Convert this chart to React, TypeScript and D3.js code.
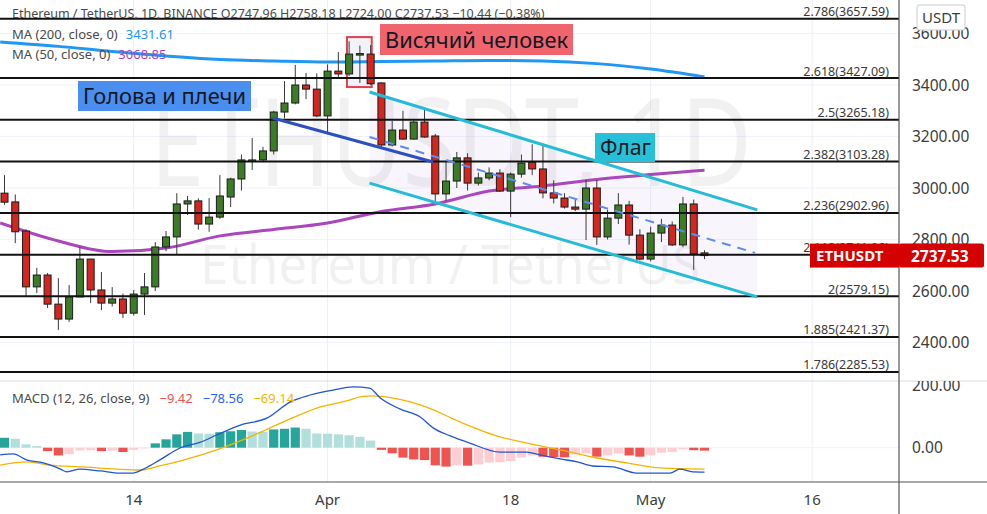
import React from 'react';
import * as d3 from 'd3';

// ---------- DATA ----------
const opens = [2980,2946,2833,2616,2662,2549,2491,2577,2724,2604,
 2553,2569,2514,2588,2616,2771,2810,2938,2950,2860,
 2887,2965,3035,3108,3109,3144,3295,3330,3400,3384,
 3280,3454,3443,3521,3520,3408,3167,3225,3190,3256,
 3202,2977,3027,3117,3019,3039,3058,2988,3054,3100,
 3074,2981,2961,2926,2918,3000,2810,2883,2934,2817,
 2724,2825,2856,2779,2938,2747.96];
const highs = [3050,2975,2840,2690,2670,2650,2623,2771,2724,2674,
 2615,2590,2604,2670,2790,2833,2980,2969,2960,2961,
 3050,3040,3130,3194,3160,3300,3415,3478,3447,3445,
 3480,3528,3570,3553,3555,3410,3260,3300,3262,3307,
 3210,3100,3140,3135,3060,3080,3073,3060,3130,3170,
 3170,3030,2980,2955,3031,3031,2915,2980,2950,2840,
 2850,2880,2870,2965,2955,2758.18];
const lows = [2935,2786,2577,2592,2534,2449,2480,2577,2553,2526,
 2540,2495,2505,2507,2600,2755,2740,2895,2838,2830,
 2880,2926,2990,3070,3100,3130,3270,3325,3345,3275,
 3210,3430,3435,3408,3400,3160,3162,3188,3188,3195,
 2950,2950,3000,2990,3010,3030,2985,2887,3040,3050,
 2960,2940,2920,2910,2798,2779,2800,2860,2780,2720,
 2715,2790,2775,2770,2682,2724];
const closes = [2945,2830,2616,2662,2549,2491,2577,2724,2604,2553,
 2569,2514,2588,2616,2771,2810,2938,2950,2860,2887,
 2969,3035,3109,3109,3144,3295,3330,3400,3384,3280,
 3454,3443,3520,3522,3405,3167,3225,3190,3256,3198,
 2977,3027,3117,3019,3039,3058,2988,3054,3097,3074,
 2981,2961,2926,2918,3000,2810,2883,2934,2817,2724,
 2825,2856,2779,2938,2744,2737.53];

const ma200Idx = [-0.4,5,10,15,20,25,30,35,40,45,50,55,60,65];
const ma200Val = [3567,3550,3530,3513,3499,3493,3489,3491,3493,3495,3493,3483,3462,3431.61];
const ma50Idx = [-0.4,5,10,15,20,25,30,35,40,45,50,55,60,65];
const ma50Val = [2864,2794,2753,2767,2814,2839,2864,2909,2938,2988,3008,3033,3052,3068.85];

const histVals = [32,29,11,5,-11,-25,-21,-9,-8,-11,
 -9,-14,-7,-2,14,27,43,51,46,45,
 50,53,57,52,51,59,61,65,61,46,
 45,43,40,35,23,-7,-18,-32,-38,-40,
 -57,-61,-57,-58,-54,-48,-47,-43,-32,-25,
 -29,-30,-31,-22,-18,-29,-25,-18,-25,-29,
 -25,-16,-14,-5,-8,-9.42];
const macdIdx = [-0.4,0.8,2.1,3.6,5.2,5.8,7.0,8.9,10.7,11.9,12.9,14.4,16.3,18.2,19.7,21.9,24.4,26.5,28.4,30.5,32.4,33.9,34.9,36.7,38.6,39.8,41.4,43.2,46.0,48.5,49.7,51.6,53.2,54.6,56.5,58.7,60.9,61.8,62.7,63.9,65];
const macdVal = [-23,-20,-40,-49,-69,-78,-69,-75,-82,-82,-69,-40,-1,18,41,73,96,147,170,186,196,192,160,125,99,64,38,15,-14,-14,-23,-36,-46,-59,-62,-82,-82,-82,-69,-78,-78.56];
const signalIdx = [-0.4,2.1,4.2,7.3,10.4,12.6,14.4,16.6,19.7,22.8,25.9,29.0,32.1,33.0,34.2,36.1,39.2,42.3,46.0,48.5,51.6,54.6,57.8,60.9,65];
const signalVal = [-56,-46,-56,-62,-69,-72,-59,-40,-7,35,83,128,154,164,167,160,131,83,35,15,-7,-30,-49,-65,-69.14];

const priceTicks = [3600,3400,3200,3000,2800,2600,2400];
const macdTicks = [200,0];
const fibRatios = ['2.786','2.618','2.5','2.382','2.236','2.118','2','1.885','1.786'];
const fibPrices = [3657.59,3427.09,3265.18,3103.28,2902.96,2741.06,2579.15,2421.37,2285.53];
const timeTickIdx = [12,30,47,60,75];
const timeTickLabels = ['14','Apr','18','May','16'];

// drawings in (candle index, price) space
const necklineIdx = [24.9, 39.8];
const necklinePrice = [3272, 3101];
const flagMidIdx = [33.9, 69.7];
const flagMidPrice = [3198, 2748];
const flagTopIdx = [33.9, 69.9];
const flagTopPrice = [3373, 2915];
const flagBotIdx = [33.9, 69.9];
const flagBotPrice = [3019, 2577];
const hangIdx = [31.8, 34.1];
const hangPrice = [3586, 3392];

const W = 987, H = 514;
const PR = 899;          // right edge of plot
const PANE_SPLIT = 381;  // price / macd
const MACD_BOTTOM = 482;
const FONT = "'Noto Sans', 'DejaVu Sans', sans-serif";

export default function App() {
  const x = d3.scaleLinear().domain([0, 65]).range([4.5, 704.5]);
  const yP = d3.scaleLinear().domain([2400, 3600]).range([342.5, 33.5]);
  const yM = d3.scaleLinear().domain([0, 200]).range([447.7, 385.7]);

  const lineFrom = (idx: number[], vals: number[], y: (v: number) => number) =>
    d3.line<number>().x((_, k) => x(idx[k])).y(v => y(v)).curve(d3.curveMonotoneX)(vals) || '';

  const seg = (idx: number[], pr: number[]) => ({ x1: x(idx[0]), y1: yP(pr[0]), x2: x(idx[1]), y2: yP(pr[1]) });
  const nk = seg(necklineIdx, necklinePrice);
  const fm = seg(flagMidIdx, flagMidPrice);
  const ft = seg(flagTopIdx, flagTopPrice);
  const fb = seg(flagBotIdx, flagBotPrice);

  const histColor = (v: number, i: number) => {
    const prev = i > 0 ? histVals[i - 1] : -Infinity;
    if (v >= 0) return v >= prev ? '#26a69a' : '#b2dfdb';
    return v < prev ? '#ef5350' : '#ffcdd2';
  };

  const lastClose = closes[closes.length - 1];

  return (
    <svg width={W} height={H} style={{ position: 'absolute', left: 0, top: 0, background: '#fff' }} fontFamily={FONT}>
      <defs>
        <clipPath id="pricePane"><rect x={0} y={0} width={PR} height={PANE_SPLIT} /></clipPath>
        <clipPath id="macdPane"><rect x={0} y={PANE_SPLIT} width={PR} height={MACD_BOTTOM - PANE_SPLIT} /></clipPath>
        <clipPath id="macdAxis"><rect x={PR} y={PANE_SPLIT} width={W - PR} height={MACD_BOTTOM - PANE_SPLIT} /></clipPath>
      </defs>
      <rect x={0} y={0} width={W} height={H} fill="#fff" />

      {/* grid */}
      {priceTicks.map(t => (
        <line key={'g' + t} x1={0} x2={PR} y1={yP(t)} y2={yP(t)} stroke="#f0f3fa" strokeWidth={1} />
      ))}
      {timeTickIdx.map(t => (
        <line key={'v' + t} x1={x(t)} x2={x(t)} y1={0} y2={MACD_BOTTOM} stroke="#eceff5" strokeWidth={1} />
      ))}

      <g clipPath="url(#pricePane)">
        {/* watermark */}
        <text x={150} y={186} fontSize={122} fill="#000" fillOpacity={0.055} textLength={602} lengthAdjust="spacingAndGlyphs">ETHUSDT, 1D</text>
        <text x={200} y={284} fontSize={54} fill="#000" fillOpacity={0.055} textLength={500} lengthAdjust="spacingAndGlyphs">Ethereum / TetherUS</text>

        {/* flag channel fill */}
        <polygon points={`${ft.x1},${ft.y1} ${ft.x2},${ft.y2} ${fb.x2},${fb.y2} ${fb.x1},${fb.y1}`} fill="#7e57c2" fillOpacity={0.05} />

        {/* hanging man box */}
        <rect x={x(hangIdx[0])} y={yP(hangPrice[0])} width={x(hangIdx[1]) - x(hangIdx[0])} height={yP(hangPrice[1]) - yP(hangPrice[0])}
          fill="#5c6bc0" fillOpacity={0.08} stroke="#e2404e" strokeWidth={2} />

        {/* moving averages */}
        <path d={lineFrom(ma200Idx, ma200Val, yP)} fill="none" stroke="#2196f3" strokeWidth={3} />
        <path d={lineFrom(ma50Idx, ma50Val, yP)} fill="none" stroke="#ab47bc" strokeWidth={3} />

        {/* candles */}
        {opens.map((o, i) => {
          const c = closes[i];
          const up = c >= o;
          const cx = x(i);
          const top = yP(Math.max(o, c));
          const bot = yP(Math.min(o, c));
          return (
            <g key={'c' + i}>
              <line x1={cx} x2={cx} y1={yP(highs[i])} y2={yP(lows[i])} stroke="#3a3a3a" strokeWidth={1} />
              <rect x={cx - 3.5} y={top} width={7} height={Math.max(1.5, bot - top)}
                fill={up ? '#3d7c27' : '#d3261f'} stroke="#1b1b1b" strokeWidth={1} />
            </g>
          );
        })}

        {/* fib levels */}
        {fibPrices.map((p, k) => (
          <g key={'f' + k}>
            <line x1={0} x2={PR} y1={yP(p)} y2={yP(p)} stroke="#111" strokeWidth={2} />
            <text x={889} y={yP(p) - 2.5} fontSize={12.5} fill="#3a3a3a" textAnchor="end">{`${fibRatios[k]}(${p.toFixed(2)})`}</text>
          </g>
        ))}

        {/* drawings */}
        <line {...nk} stroke="#2d4fc2" strokeWidth={3} />
        <line {...fm} stroke="#5b8def" strokeWidth={2} strokeDasharray="9 7" />
        <line {...ft} stroke="#26bcd7" strokeWidth={3} />
        <line {...fb} stroke="#26bcd7" strokeWidth={3} />

        {/* labels */}
        <rect x={78} y={81} width={173} height={30} fill="#4a8ef0" />
        <text x={83} y={104} fontSize={22} fill="#131722" textLength={163} lengthAdjust="spacingAndGlyphs">Голова и плечи</text>
        <rect x={380} y={24} width={193} height={31} fill="#f0646e" />
        <text x={385} y={48} fontSize={22} fill="#131722" textLength={183} lengthAdjust="spacingAndGlyphs">Висячий человек</text>
        <rect x={595} y={133} width={60} height={29} fill="#26c1d8" />
        <text x={600} y={155} fontSize={22} fill="#131722" textLength={51} lengthAdjust="spacingAndGlyphs">Флаг</text>

        {/* legend */}
        <text x={12} y={18} fontSize={12.5} fill="#4a4a4a">
          Ethereum / TetherUS, 1D, BINANCE{'  '}
          <tspan>O2747.96  H2758.18  L2724.00  C2737.53  −10.44 (−0.38%)</tspan>
        </text>
        <text x={12} y={39} fontSize={13} fill="#4a4a4a">MA (200, close, 0)<tspan dx={8} fill="#2196f3">3431.61</tspan></text>
        <text x={12} y={59} fontSize={13} fill="#4a4a4a">MA (50, close, 0)<tspan dx={8} fill="#ab47bc">3068.85</tspan></text>
      </g>

      {/* MACD pane */}
      <g clipPath="url(#macdPane)">
        <line x1={0} x2={PR} y1={yM(0)} y2={yM(0)} stroke="#f0f3fa" />
        {histVals.map((v, i) => (
          <rect key={'h' + i} x={x(i) - 4.6} width={9.2} y={Math.min(yM(v), yM(0))} height={Math.abs(yM(v) - yM(0))} fill={histColor(v, i)} />
        ))}
        <path d={lineFrom(signalIdx, signalVal, yM)} fill="none" stroke="#f4b400" strokeWidth={1.3} />
        <path d={lineFrom(macdIdx, macdVal, yM)} fill="none" stroke="#2155d6" strokeWidth={1.3} />
        <text x={12} y={403} fontSize={13} fill="#4a4a4a">MACD (12, 26, close, 9)
          <tspan dx={10} fill="#ef5350">−9.42</tspan>
          <tspan dx={10} fill="#2962ff">−78.56</tspan>
          <tspan dx={10} fill="#f4b400">−69.14</tspan>
        </text>
      </g>

      {/* pane separators & axes */}
      <line x1={0} x2={W} y1={PANE_SPLIT} y2={PANE_SPLIT} stroke="#d9dce3" strokeWidth={1} />
      <line x1={PR} x2={PR} y1={0} y2={H} stroke="#555" strokeWidth={1.2} />
      <line x1={0} x2={W} y1={MACD_BOTTOM} y2={MACD_BOTTOM} stroke="#555" strokeWidth={1.2} />

      {/* price axis labels */}
      {priceTicks.map(t => (
        <text key={'pl' + t} x={912} y={yP(t) + 5.5} fontSize={15.5} fill="#3c3c3c">{t.toFixed(2)}</text>
      ))}
      <g clipPath="url(#macdAxis)">
        {macdTicks.map(t => (
          <text key={'ml' + t} x={912} y={yM(t) + 5.5} fontSize={15.5} fill="#3c3c3c">{t.toFixed(2)}</text>
        ))}
      </g>
      <rect x={917} y={5} width={48} height={25} rx={2} fill="#fff" stroke="#c8cbd2" />
      <text x={941} y={23} fontSize={15} fill="#3c3c3c" textAnchor="middle">USDT</text>

      {/* last price labels */}
      <rect x={810} y={yP(lastClose) - 12} width={PR - 810} height={24} fill="#d50000" />
      <text x={816} y={yP(lastClose) + 5.5} fontSize={15} fontWeight="bold" fill="#fff">ETHUSDT</text>
      <rect x={PR} y={yP(lastClose) - 12} width={85} height={24} rx={2} fill="#d50000" />
      <text x={911} y={yP(lastClose) + 6} fontSize={15.5} fontWeight="bold" fill="#fff">{lastClose.toFixed(2)}</text>

      {/* time axis */}
      {timeTickIdx.map((t, k) => (
        <text key={'t' + t} x={x(t)} y={505} fontSize={15} fill="#3c3c3c" textAnchor="middle">{timeTickLabels[k]}</text>
      ))}
    </svg>
  );
}
